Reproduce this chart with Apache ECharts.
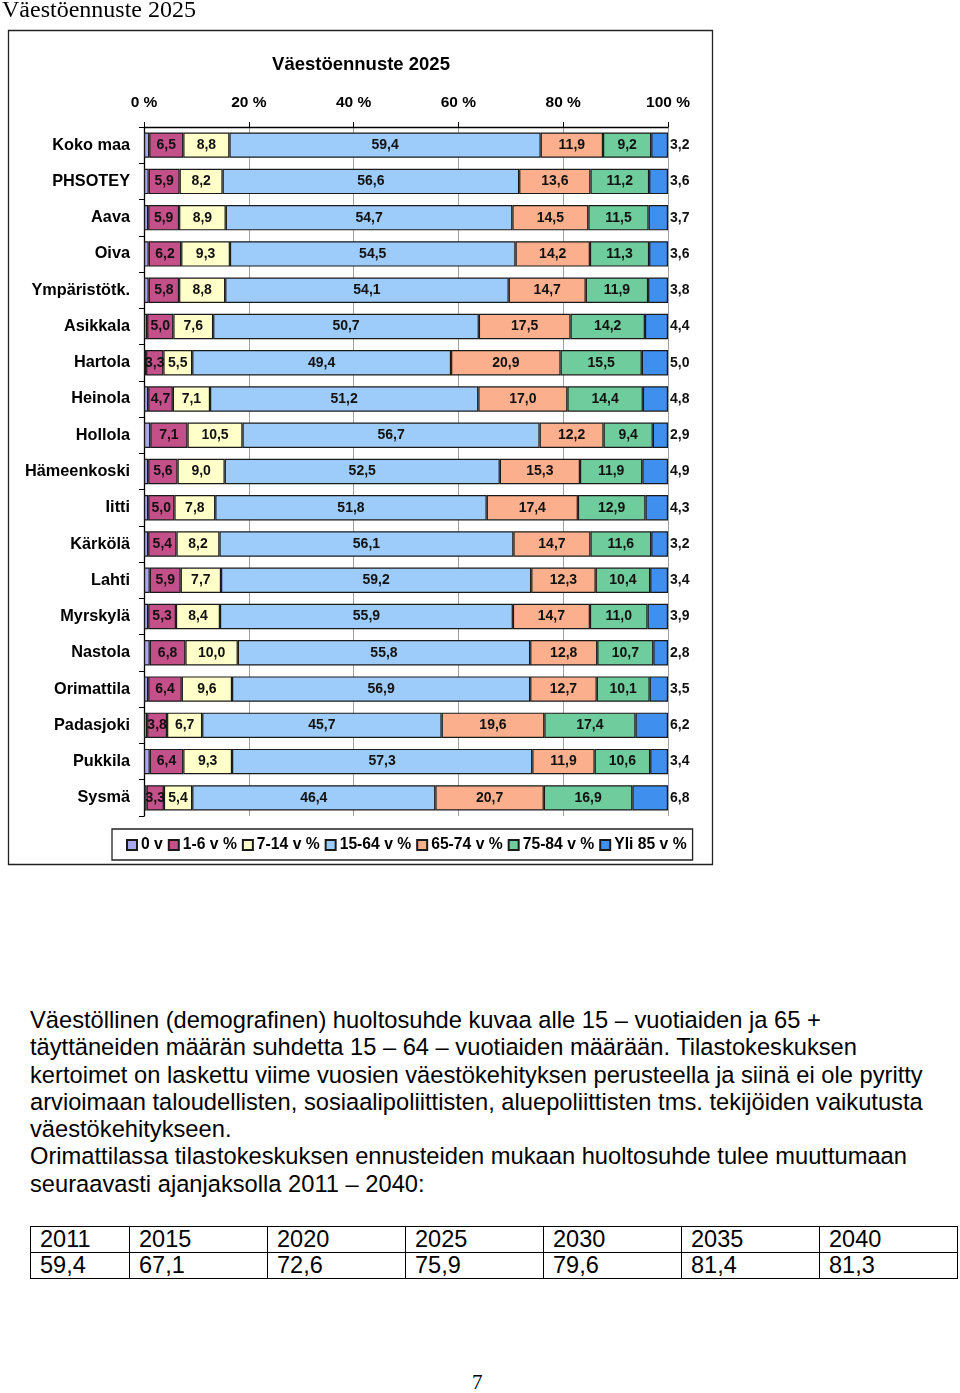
<!DOCTYPE html>
<html><head><meta charset="utf-8">
<script src="https://cdn.jsdelivr.net/npm/echarts@6/dist/echarts.min.js"></script>
<style>
html,body{margin:0;padding:0;background:#fff;width:960px;height:1393px;overflow:hidden;position:relative;}
#chart{position:absolute;left:0;top:0;width:960px;height:900px;}
#para{position:absolute;left:30px;top:1007px;width:930px;font-family:"Liberation Sans",Arial,sans-serif;font-size:23.7px;line-height:27.3px;color:#000;white-space:nowrap;}
#tbl{position:absolute;left:30px;top:1226px;border-collapse:collapse;font-family:"Liberation Sans",Arial,sans-serif;font-size:23.5px;color:#000;}
#tbl td{border:1.5px solid #000;height:25px;padding:0 0 0 9px;line-height:25px;}
#pnum{position:absolute;left:472px;top:1370px;font-family:"Liberation Serif","Times New Roman",serif;font-size:21px;}
</style></head>
<body>
<div id="chart"></div>
<div id="para"></div>
<table id="tbl"></table>
<div id="pnum">7</div>
<script>
const categories = ["Koko maa","PHSOTEY","Aava","Oiva","Ympäristötk.","Asikkala","Hartola","Heinola","Hollola","Hämeenkoski","Iitti","Kärkölä","Lahti","Myrskylä","Nastola","Orimattila","Padasjoki","Pukkila","Sysmä"];
const seriesNames = ["0 v","1-6 v %","7-14 v %","15-64 v %","65-74 v %","75-84 v %","Yli 85 v %"];
const v0    = [1.0,0.9,0.8,0.9,0.9,0.6,0.4,0.8,1.2,0.8,0.8,0.8,1.1,0.8,1.1,0.8,0.6,1.1,0.5];
const v1_6  = [6.5,5.9,5.9,6.2,5.8,5.0,3.3,4.7,7.1,5.6,5.0,5.4,5.9,5.3,6.8,6.4,3.8,6.4,3.3];
const v7_14 = [8.8,8.2,8.9,9.3,8.8,7.6,5.5,7.1,10.5,9.0,7.8,8.2,7.7,8.4,10.0,9.6,6.7,9.3,5.4];
const v15_64= [59.4,56.6,54.7,54.5,54.1,50.7,49.4,51.2,56.7,52.5,51.8,56.1,59.2,55.9,55.8,56.9,45.7,57.3,46.4];
const v65_74= [11.9,13.6,14.5,14.2,14.7,17.5,20.9,17.0,12.2,15.3,17.4,14.7,12.3,14.7,12.8,12.7,19.6,11.9,20.7];
const v75_84= [9.2,11.2,11.5,11.3,11.9,14.2,15.5,14.4,9.4,11.9,12.9,11.6,10.4,11.0,10.7,10.1,17.4,10.6,16.9];
const v85   = [3.2,3.6,3.7,3.6,3.8,4.4,5.0,4.8,2.9,4.9,4.3,3.2,3.4,3.9,2.8,3.5,6.2,3.4,6.8];
const tableYears = ["2011","2015","2020","2025","2030","2035","2040"];
const tableValues = ["59,4","67,1","72,6","75,9","79,6","81,4","81,3"];
const colors = ["#A9A9F2","#C4508A","#FFFFCA","#9DCBFA","#FCAF8C","#6FCC9C","#3E8FEE"];
const allData = [v0,v1_6,v7_14,v15_64,v65_74,v75_84,v85];

const paraLines = [
 "Väestöllinen (demografinen) huoltosuhde kuvaa alle 15 – vuotiaiden ja 65 +",
 "täyttäneiden määrän suhdetta 15 – 64 – vuotiaiden määrään. Tilastokeskuksen",
 "kertoimet on laskettu viime vuosien väestökehityksen perusteella ja siinä ei ole pyritty",
 "arvioimaan taloudellisten, sosiaalipoliittisten, aluepoliittisten tms. tekijöiden vaikutusta",
 "väestökehitykseen.",
 "Orimattilassa tilastokeskuksen ennusteiden mukaan huoltosuhde tulee muuttumaan",
 "seuraavasti ajanjaksolla 2011 – 2040:"
];
document.getElementById('para').innerHTML = paraLines.map(l=>'<div>'+l+'</div>').join('');
const widths=[99,138,138,138,138,138,138];
document.getElementById('tbl').innerHTML =
 '<tr>'+tableYears.map((y,i)=>'<td style="width:'+(widths[i]-10)+'px">'+y+'</td>').join('')+'</tr>'+
 '<tr>'+tableValues.map(v=>'<td>'+v+'</td>').join('')+'</tr>';

const fmt = v => v.toFixed(1).replace('.',',');
const FF = 'Liberation Sans, Arial, sans-serif';
const chart = echarts.init(document.getElementById('chart'), null, {renderer:'canvas'});
const series = seriesNames.map((name,i)=>({
  name, type:'bar', stack:'all', barWidth:'70%',
  data: allData[i],
  itemStyle:{color:colors[i], borderColor:'#1a1a1a', borderWidth:1.2},
  label:{
    show: i>0,
    position: i===6 ? 'right' : 'inside',
    distance: 2,
    formatter: p=>fmt(p.value),
    color:'#111', fontFamily:FF, fontWeight:'bold', fontSize:14
  },
  emphasis:{disabled:true},
  animation:false
}));
chart.setOption({
  animation:false,
  graphic:[
    {type:'rect', shape:{x:8.5,y:30.5,width:704,height:834}, style:{fill:'none',stroke:'#222',lineWidth:1.3}, z:-1},
    {type:'text', x:2, y:11, style:{text:'Väestöennuste 2025', font:'24px "Liberation Serif", "Times New Roman", serif', fill:'#000', verticalAlign:'middle'}},
    {type:'text', x:361, y:65, style:{text:'Väestöennuste 2025', font:'bold 18.5px "Liberation Sans", Arial, sans-serif', fill:'#000', align:'center', verticalAlign:'middle'}}
  ],
  grid:{left:144, top:127, width:524, height:689, containLabel:false},
  xAxis:{type:'value', position:'top', min:0, max:100, interval:20,
    axisLine:{show:true, lineStyle:{color:'#000', width:1.3}},
    axisTick:{show:true, inside:false, length:5, lineStyle:{color:'#000'}},
    axisLabel:{formatter:'{value} %', margin:16, color:'#000', fontWeight:'bold', fontSize:15.5, fontFamily:FF},
    splitLine:{show:true, lineStyle:{color:'#a0a0a0', width:1}}
  },
  yAxis:{type:'category', data:categories, inverse:true,
    axisLine:{show:true, lineStyle:{color:'#000', width:1.3}},
    axisTick:{show:true, length:5, lineStyle:{color:'#000'}},
    axisLabel:{margin:14, color:'#000', fontWeight:'bold', fontSize:16.3, fontFamily:FF}
  },
  legend:{left:112, top:829, itemWidth:10, itemHeight:10, itemGap:5,
    borderColor:'#222', borderWidth:1.3, padding:[8,6,7,14],
    icon:'rect',
    textStyle:{color:'#000', fontWeight:'bold', fontSize:15.7, fontFamily:FF, padding:[0,0,0,-1]},
    data:seriesNames
  },
  series
});
</script>
</body></html>
